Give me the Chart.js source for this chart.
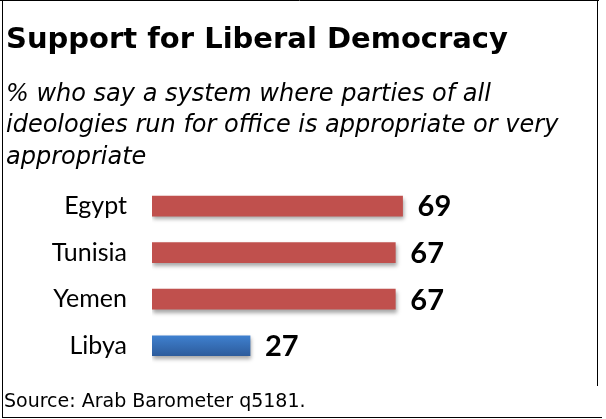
<!DOCTYPE html>
<html>
<head>
<meta charset="utf-8">
<script src="https://cdn.jsdelivr.net/npm/chart.js@4"></script>
<style>
  body { margin: 0; background: #fff; }
  #wrap { width: 606px; height: 419px; }
</style>
</head>
<body>
<div id="wrap"><canvas id="myChart" width="606" height="419"></canvas></div>
<script>
// data
const countries = ['Egypt', 'Tunisia', 'Yemen', 'Libya'];
const support = [69, 67, 67, 27];
const barColors = ['#C0504D', '#C0504D', '#C0504D', 'blue'];

const titleText = 'Support for Liberal Democracy';
const subtitleLines = [
    '% who say a system where parties of all',
    'ideologies run for office is appropriate or very',
    'appropriate'
];
const sourceText = 'Source: Arab Barometer q5181.';

// blue bar gets a little gradient, like the original
function barFill(context) {
    const c = barColors[context.dataIndex];
    if (c !== 'blue') return c;
    const chart = context.chart;
    const y = chart.scales.y;
    if (!chart.chartArea || !y) return '#3A72BF';
    const mid = y.getPixelForValue(context.dataIndex);
    const g = chart.ctx.createLinearGradient(0, mid - 10, 0, mid + 10);
    g.addColorStop(0, '#3F80CF');
    g.addColorStop(1, '#2D5C9C');
    return g;
}

// shadow under the bars
const barShadow = {
    id: 'barShadow',
    beforeDatasetsDraw(chart) {
        const ctx = chart.ctx;
        ctx.save();
        ctx.shadowColor = 'rgba(0,0,0,0.35)';
        ctx.shadowBlur = 4;
        ctx.shadowOffsetX = 1;
        ctx.shadowOffsetY = 3;
    },
    afterDatasetsDraw(chart) {
        chart.ctx.restore();
    }
};

// value labels at bar ends
const valueLabels = {
    id: 'valueLabels',
    afterDatasetsDraw(chart) {
        const ctx = chart.ctx;
        const meta = chart.getDatasetMeta(0);
        ctx.save();
        ctx.font = 'bold 29px Lato, "Open Sans", sans-serif';
        ctx.fillStyle = '#000';
        ctx.textAlign = 'left';
        ctx.textBaseline = 'middle';
        meta.data.forEach((bar, i) => {
            ctx.fillText(support[i], bar.x + 15, bar.y + 1);
        });
        ctx.restore();
    }
};

// frame lines and source note
const frame = {
    id: 'frame',
    afterDraw(chart) {
        const ctx = chart.ctx;
        ctx.save();
        ctx.strokeStyle = '#000';
        ctx.lineWidth = 1;
        ctx.beginPath();
        ctx.moveTo(0, 0.5); ctx.lineTo(599, 0.5);
        ctx.moveTo(2.5, 0); ctx.lineTo(2.5, 418);
        ctx.moveTo(597.5, 0); ctx.lineTo(597.5, 386);
        ctx.moveTo(2, 417.5); ctx.lineTo(602, 417.5);
        ctx.stroke();
        ctx.font = '19px "DejaVu Sans", Verdana, sans-serif';
        ctx.fillStyle = '#000';
        ctx.textBaseline = 'alphabetic';
        ctx.fillText(sourceText, 4, 407);
        ctx.restore();
    }
};

const ctx = document.getElementById('myChart').getContext('2d');

const myChart = new Chart(ctx, {
    type: 'bar',
    data: {
        labels: countries,
        datasets: [{
            data: support,
            backgroundColor: barFill,
            borderWidth: 0,
            barThickness: 20
        }]
    },
    options: {
        responsive: false,
        animation: false,
        indexAxis: 'y',
        layout: {
            padding: { left: 6, right: 40, top: 0, bottom: 50 }
        },
        scales: {
            x: {
                display: false,
                min: 0,
                max: 114
            },
            y: {
                grid: { display: false },
                border: { display: false },
                ticks: {
                    color: '#000',
                    padding: 17,
                    font: { family: 'Lato, "Open Sans", sans-serif', size: 25 }
                },
                afterFit(scale) {
                    scale.width = 146;
                }
            }
        },
        plugins: {
            legend: { display: false },
            tooltip: { enabled: false },
            title: {
                display: true,
                text: titleText,
                align: 'start',
                color: '#000',
                font: { family: '"DejaVu Sans", Verdana, sans-serif', size: 29, weight: 'bold', lineHeight: 1.2 },
                padding: { top: 23, bottom: 10 }
            },
            subtitle: {
                display: true,
                text: subtitleLines,
                align: 'start',
                color: '#000',
                font: { family: '"DejaVu Sans", Verdana, sans-serif', size: 24, style: 'italic', lineHeight: '31.5px' },
                padding: { top: 11, bottom: 9.5 }
            }
        }
    },
    plugins: [barShadow, valueLabels, frame]
});
</script>
</body>
</html>
